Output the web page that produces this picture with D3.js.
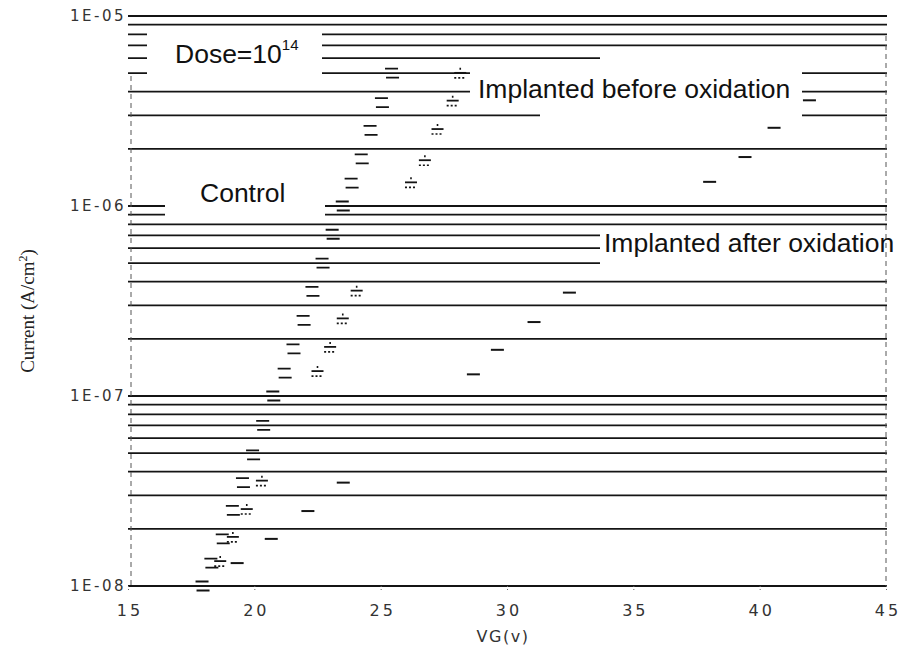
<!DOCTYPE html>
<html><head><meta charset="utf-8">
<script src="https://cdn.jsdelivr.net/npm/d3@7"></script>
<style>body{margin:0;background:#fff}svg{display:block}</style>
</head><body><svg id="c" width="906" height="650"></svg>
<script>
// ---------------- data ----------------
const xTickValues = [15, 20, 25, 30, 35, 40, 45];
const yTickValues = [1e-8, 1e-7, 1e-6, 1e-5];
const yTickLabels = ["1E-08", "1E-07", "1E-06", "1E-05"];
const seriesNames = ["Control", "Implanted before oxidation", "Implanted after oxidation"];

const controlVG = [17.95, 18.3, 18.75, 19.15, 19.55, 19.95, 20.35, 20.75, 21.2, 21.55, 21.95, 22.3, 22.7, 23.1, 23.5, 23.85, 24.25, 24.6, 25.05, 25.45];
const controlI  = [1.0e-8, 1.32e-8, 1.77e-8, 2.5e-8, 3.5e-8, 4.9e-8, 7.0e-8, 1.0e-7, 1.32e-7, 1.77e-7, 2.5e-7, 3.55e-7, 5.0e-7, 7.1e-7, 1.0e-6, 1.32e-6, 1.77e-6, 2.5e-6, 3.5e-6, 5.0e-6];

const beforeVG = [18.65, 19.15, 19.7, 20.3, 22.5, 23.0, 23.5, 24.05, 26.2, 26.75, 27.25, 27.85, 28.15];
const beforeI  = [1.32e-8, 1.77e-8, 2.48e-8, 3.5e-8, 1.32e-7, 1.77e-7, 2.5e-7, 3.5e-7, 1.3e-6, 1.7e-6, 2.48e-6, 3.5e-6, 4.9e-6];

const afterVG = [19.3, 20.65, 22.1, 23.5, 28.65, 29.6, 31.05, 32.45, 38.0, 39.4, 40.55, 41.95];
const afterI  = [1.32e-8, 1.77e-8, 2.48e-8, 3.5e-8, 1.3e-7, 1.75e-7, 2.45e-7, 3.5e-7, 1.34e-6, 1.81e-6, 2.58e-6, 3.6e-6];

// ---------------- layout ----------------
const svg = d3.select("#c");
const L = 128, R = 887, T = 16, B = 586;
const x = d3.scaleLinear().domain([15, 45]).range([L, R - 1]);
const y = d3.scaleLog().domain([1e-8, 1e-5]).range([B, T]);
const ink = "#141414";

// gridlines at every log tick
svg.append("g").selectAll("line").data(y.ticks()).join("line")
  .attr("x1", L).attr("x2", R)
  .attr("y1", d => y(d)).attr("y2", d => y(d))
  .attr("stroke", ink).attr("stroke-width", 1.8);

// white label backgrounds interrupting the grid
const masks = [[147, 27, 322, 82], [470, 62, 802, 108], [540, 108, 802, 122], [600, 51, 892, 65],
               [165, 155, 325, 219], [600, 228, 906, 272]];
svg.append("g").selectAll("rect").data(masks).join("rect")
  .attr("x", d => d[0]).attr("y", d => d[1])
  .attr("width", d => d[2] - d[0]).attr("height", d => d[3] - d[1])
  .attr("fill", "#fff");

// frame sides (faint dashed)
svg.append("line").attr("x1", L + 3).attr("x2", L + 3).attr("y1", T + 60).attr("y2", B)
  .attr("stroke", "#555").attr("stroke-width", 1).attr("stroke-dasharray", "5,4");
svg.append("line").attr("x1", R - 1).attr("x2", R - 1).attr("y1", T + 20).attr("y2", B)
  .attr("stroke", "#555").attr("stroke-width", 1).attr("stroke-dasharray", "5,4");

// axes
const yAxis = svg.append("g").attr("transform", `translate(${L},0)`)
  .call(d3.axisLeft(y).tickValues(yTickValues).tickSize(0).tickPadding(2)
    .tickFormat((d, i) => yTickLabels[i]));
yAxis.select(".domain").remove();
yAxis.selectAll("text").attr("font-family", "DejaVu Sans, sans-serif").attr("font-size", 15)
  .attr("letter-spacing", 2.5).attr("fill", "#333");

const xAxis = svg.append("g").attr("transform", `translate(0,${B})`)
  .call(d3.axisBottom(x).tickValues(xTickValues).tickSize(4).tickPadding(15).tickFormat(d3.format("d")));
xAxis.select(".domain").remove();
xAxis.selectAll(".tick line").attr("stroke", "#666").attr("stroke-dasharray", "1,2");
xAxis.selectAll("text").attr("font-family", "DejaVu Sans, sans-serif").attr("font-size", 16)
  .attr("letter-spacing", 3).attr("fill", "#333").attr("dx", 1.5);

svg.append("text").attr("x", 503).attr("y", 642).attr("text-anchor", "middle")
  .attr("font-family", "DejaVu Sans, sans-serif").attr("font-size", 16).attr("letter-spacing", 1.5)
  .attr("fill", "#333").text("VG(v)");

const yl = svg.append("text").attr("transform", "translate(34,311) rotate(-90)")
  .attr("text-anchor", "middle").attr("font-family", "Liberation Serif, serif")
  .attr("font-size", 19).attr("fill", "#222");
yl.append("tspan").text("Current (A/cm");
yl.append("tspan").attr("font-size", 12).attr("dy", -7).text("2");
yl.append("tspan").attr("dy", 7).text(")");

// ---------------- markers ----------------
const control = controlVG.map((v, i) => ({v, c: controlI[i]}));
const before = beforeVG.map((v, i) => ({v, c: beforeI[i]}));
const after = afterVG.map((v, i) => ({v, c: afterI[i]}));

const gC = svg.append("g").attr("stroke", ink).attr("stroke-width", 1.8);
gC.selectAll("path").data(control).join("path")
  .attr("d", d => { const px = x(d.v), py = y(d.c);
    return `M${px-7},${py-4.5}H${px+6}M${px-6},${py+4.5}H${px+7}`; });

const gB = svg.append("g").attr("stroke", ink);
gB.selectAll("path.a").data(before).join("path").attr("class", "a").attr("stroke-width", 1.8)
  .attr("d", d => { const px = x(d.v), py = y(d.c); return `M${px-6},${py-2}H${px+6}`; });
gB.selectAll("path.b").data(before).join("path").attr("class", "b").attr("stroke-width", 1.6)
  .attr("stroke-dasharray", "2,2")
  .attr("d", d => { const px = x(d.v), py = y(d.c); return `M${px-6},${py+3}H${px+6}M${px},${py-7}V${py-4}`; });

const gA = svg.append("g").attr("stroke", ink).attr("stroke-width", 2);
gA.selectAll("path").data(after).join("path")
  .attr("d", d => { const px = x(d.v), py = y(d.c); return `M${px-6},${py}H${px+7}`; });

// ---------------- annotations ----------------
const lab = (xx, yy, txt) => svg.append("text").attr("x", xx).attr("y", yy)
  .attr("font-family", "Liberation Sans, Arial, sans-serif").attr("font-size", 26.5)
  .attr("fill", "#111").text(txt);
const dose = lab(175, 63, "Dose=10");
dose.append("tspan").attr("font-size", 15).attr("dy", -13).text("14");
lab(200, 202, seriesNames[0]);
lab(478, 98, seriesNames[1]);
lab(604, 252, seriesNames[2]);
</script></body></html>
